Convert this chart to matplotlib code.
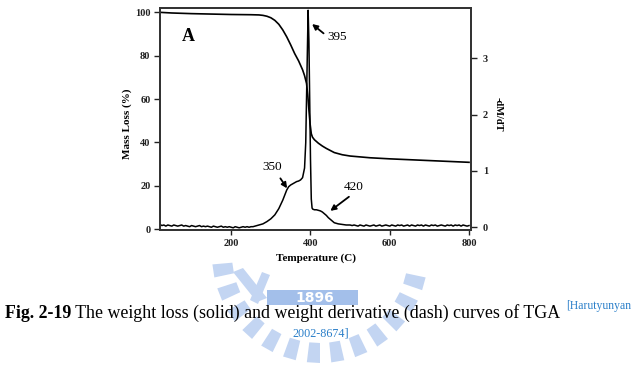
import matplotlib
matplotlib.use("Agg")
import numpy as np
import matplotlib.pyplot as plt
from matplotlib.patches import Polygon, Rectangle

# ---------------- data ----------------
mass_temp = [20, 50, 100, 150, 200, 250, 270, 280, 290, 300, 310, 320, 330, 340, 350,
             360, 370, 380, 385, 390, 393, 396, 399, 402, 405, 410, 420, 430, 440, 460,
             480, 500, 550, 600, 650, 700, 750, 800]
mass_loss = [100.0, 99.7, 99.4, 99.2, 99.0, 98.9, 98.8, 98.6, 98.2, 97.5, 96.3, 94.5,
             91.9, 88.7, 85.0, 81.0, 77.6, 73.5, 70.8, 67.2, 62.0, 55.0, 48.5, 44.0,
             42.4, 41.2, 39.6, 38.3, 37.2, 35.3, 34.3, 33.7, 32.9, 32.4, 32.0, 31.6,
             31.2, 30.8]

deriv_temp = [20, 25, 30, 35, 40, 45, 50, 55, 60, 65, 70, 75, 80, 85, 90, 95, 100, 105,
              110, 115, 120, 125, 130, 135, 140, 145, 150, 155, 160, 165, 170, 175, 180,
              185, 190, 195, 200, 205, 210, 215, 220, 225, 230, 235, 240, 245, 250, 255,
              260, 270, 280, 290, 300, 310, 320, 330, 340, 345, 350, 355, 360, 365, 370,
              375, 380, 385, 388, 390, 392, 394, 396, 398, 400, 402, 404, 406, 410, 415,
              420, 425, 430, 435, 440, 445, 450, 455, 460, 470, 480, 490, 500, 505, 510,
              515, 520, 525, 530, 535, 540, 545, 550, 555, 560, 565, 570, 575, 580, 585,
              590, 595, 600, 605, 610, 615, 620, 625, 630, 635, 640, 645, 650, 655, 660,
              665, 670, 675, 680, 685, 690, 695, 700, 705, 710, 715, 720, 725, 730, 735,
              740, 745, 750, 755, 760, 765, 770, 775, 780, 785, 790, 795, 800]
deriv = [0.05, 0.03, 0.04, 0.02, 0.04, 0.03, 0.02, 0.04, 0.03, 0.02, 0.03, 0.04, 0.02,
         0.03, 0.02, 0.01, 0.03, 0.02, 0.01, 0.02, 0.03, 0.01, 0.02, 0.01, 0.02, 0.01,
         0.00, 0.02, 0.01, 0.00, 0.01, 0.02, 0.00, 0.01, 0.00, 0.01, 0.00, -0.01, 0.01,
         0.00, -0.01, 0.00, 0.01, 0.00, 0.01, 0.00, 0.01, 0.01, 0.02, 0.04, 0.06, 0.10,
         0.15, 0.22, 0.33, 0.48, 0.66, 0.72, 0.75, 0.77, 0.79, 0.81, 0.82, 0.84, 0.88,
         1.05, 1.50, 2.30, 3.10, 3.85, 3.30, 2.30, 1.20, 0.50, 0.34, 0.32, 0.31, 0.31,
         0.30, 0.29, 0.27, 0.24, 0.21, 0.17, 0.14, 0.11, 0.08, 0.06, 0.05, 0.04, 0.04,
         0.03, 0.04, 0.03, 0.02, 0.04, 0.03, 0.02, 0.04, 0.03, 0.02, 0.03, 0.04, 0.02,
         0.03, 0.04, 0.02, 0.03, 0.04, 0.03, 0.02, 0.04, 0.03, 0.02, 0.04, 0.03, 0.04,
         0.02, 0.03, 0.04, 0.02, 0.04, 0.03, 0.02, 0.04, 0.03, 0.04, 0.02, 0.04, 0.03,
         0.02, 0.04, 0.03, 0.04, 0.02, 0.03, 0.04, 0.03, 0.02, 0.04, 0.03, 0.04, 0.02,
         0.04, 0.03, 0.04, 0.02, 0.04, 0.03, 0.02, 0.03]

x_ticks = [200, 400, 600, 800]
left_ticks = [0, 20, 40, 60, 80, 100]
right_ticks = [0, 1, 2, 3]

caption_bold = "Fig. 2-19"
caption_rest = " The weight loss (solid) and weight derivative (dash) curves of TGA"
ref_line1 = "[Harutyunyan"
ref_line2 = "2002-8674]"

# ---------------- figure ----------------
W, H = 642, 368
fig = plt.figure(figsize=(W / 100, H / 100), dpi=100)
serif = "Liberation Serif"


def fx(px):
    return px / W


def fy(py):
    return 1 - py / H


# watermark (faint logo) drawn behind everything
wm_light = "#c3d5f2"
cx, cy, r_out, r_in = 320, 255, 108, 88
for ang in range(12, 172, 13):
    a0, a1 = np.radians(ang), np.radians(ang + 7)
    pts = [(cx + r_in * np.cos(a0), cy + r_in * np.sin(a0)),
           (cx + r_out * np.cos(a0), cy + r_out * np.sin(a0)),
           (cx + r_out * np.cos(a1), cy + r_out * np.sin(a1)),
           (cx + r_in * np.cos(a1), cy + r_in * np.sin(a1))]
    fig.patches.append(Polygon([(fx(x), fy(y)) for x, y in pts], closed=True,
                               transform=fig.transFigure, facecolor=wm_light,
                               edgecolor="none", zorder=0))
for pts in [[(233, 272), (243, 268), (267, 298), (257, 302)],
            [(250, 300), (262, 272), (270, 275), (258, 304)]]:
    fig.patches.append(Polygon([(fx(x), fy(y)) for x, y in pts], closed=True,
                               transform=fig.transFigure, facecolor=wm_light,
                               edgecolor="none", zorder=0))
fig.patches.append(Rectangle((fx(267), fy(305)), fx(358) - fx(267), fy(290) - fy(305),
                             transform=fig.transFigure, facecolor="#a3bfea",
                             edgecolor="none", zorder=0))
fig.text(fx(315), fy(298), "1896", ha="center", va="center", color="white",
         fontfamily="DejaVu Sans", fontweight="bold", fontsize=10, zorder=1)

ax = fig.add_axes([fx(159.5), fy(229.5), fx(471) - fx(159.5), fy(8) - fy(229.5)])
ax2 = ax.twinx()

ax.plot(mass_temp, mass_loss, color="black", lw=1.2)
ax2.plot(deriv_temp, deriv, color="black", lw=1.1)

ax.set_xlim(19, 805)
ax.set_ylim(-0.2, 102)
ax2.set_ylim(-0.04, 3.89)

ax.set_xticks(x_ticks)
ax.set_yticks(left_ticks)
ax2.set_yticks(right_ticks)

for a in (ax, ax2):
    for s in a.spines.values():
        s.set_linewidth(1.3)
        s.set_color("#333333")
    a.tick_params(direction="out", length=4.5, width=1.0, colors="#222222", pad=2)
    for lab in a.get_xticklabels() + a.get_yticklabels():
        lab.set_fontfamily(serif)
        lab.set_fontweight("bold")
        lab.set_fontsize(7.5)
ax.tick_params(axis="x", length=3.5, pad=3)
ax2.tick_params(axis="y", pad=4)

fig.text(fx(127), fy(124), "Mass Loss (%)", rotation=90, ha="center", va="center",
         fontfamily=serif, fontweight="bold", fontsize=8)
fig.text(fx(498), fy(114), "-dM/dT", rotation=270, ha="center", va="center",
         fontfamily=serif, fontweight="bold", fontsize=7.5)
fig.text(fx(316), fy(258), "Temperature (C)", ha="center", va="center",
         fontfamily=serif, fontweight="bold", fontsize=8)

# annotations
ax.text(92, 89, "A", fontfamily=serif, fontweight="bold", fontsize=13,
        ha="center", va="center")
arrow = dict(arrowstyle="-|>", color="black", lw=1.3, mutation_scale=8,
             shrinkA=0, shrinkB=0)
ax.annotate("", xy=(404, 94.6), xytext=(433, 90.3), arrowprops=arrow)
ax.text(466, 88.5, "395", fontfamily=serif, fontsize=9.5, ha="center", va="center")
ax.annotate("", xy=(341, 18.8), xytext=(324, 23.4), arrowprops=arrow)
ax.text(303, 28.7, "350", fontfamily=serif, fontsize=9.5, ha="center", va="center")
ax.annotate("", xy=(450, 8.4), xytext=(497, 14.9), arrowprops=arrow)
ax.text(509, 19.5, "420", fontfamily=serif, fontsize=9.5, ha="center", va="center")

# caption
t1 = fig.text(fx(5), fy(318), caption_bold, ha="left", va="baseline",
              fontfamily=serif, fontweight="bold", fontsize=12.9, zorder=3)
fig.canvas.draw()
bb = t1.get_window_extent()
t2 = fig.text(bb.x1 / W, fy(318), caption_rest, ha="left", va="baseline",
              fontfamily=serif, fontsize=12.9, zorder=3)
fig.canvas.draw()
bb2 = t2.get_window_extent()
fig.text(bb2.x1 / W + 0.008, fy(306), ref_line1, ha="left", va="center",
         fontfamily=serif, fontsize=8.4, color="#2a7fc9", zorder=3)
fig.text(fx(321), fy(333), ref_line2, ha="center", va="center",
         fontfamily=serif, fontsize=8.7, color="#2a7fc9", zorder=3)

fig.savefig("out.png", dpi=100)
